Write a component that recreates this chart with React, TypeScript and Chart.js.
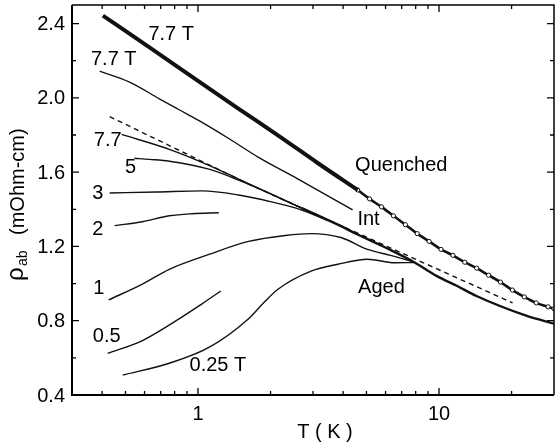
import React, { useEffect, useRef } from "react";
import { Chart, registerables } from "chart.js";
Chart.register(...registerables);

// ---- data (T in K, rho_ab in mOhm-cm) ----
const quenchedT = [0.403, 0.629, 1.0, 1.475, 2.154, 3.147, 4.6];
const quenchedR = [2.443, 2.272, 2.091, 1.941, 1.797, 1.648, 1.504];
const quenchedCircT = [4.6, 5.15, 5.77, 6.47, 7.25, 8.12, 9.1, 10.19, 11.42, 12.79, 14.33, 16.06, 17.99, 20.16, 22.59, 25.31, 28.36, 30];
const quenchedCircR = [1.504, 1.456, 1.413, 1.365, 1.317, 1.269, 1.227, 1.184, 1.152, 1.115, 1.083, 1.045, 1.008, 0.965, 0.928, 0.896, 0.875, 0.864];
const intT = [0.391, 0.52, 0.691, 0.835, 1.01, 1.341, 1.783, 2.603, 4.38];
const intR = [2.144, 2.085, 1.995, 1.936, 1.877, 1.781, 1.68, 1.563, 1.397];
const dashT = [0.43, 1.62, 20.2];
const dashR = [1.899, 1.536, 0.896];
const aged77T = [0.482, 0.76, 1.11, 1.475, 1.96, 2.679, 3.804, 4.6, 6.11, 7.89, 9.81, 11.9, 14.3, 23.0, 30];
const aged77R = [1.803, 1.723, 1.637, 1.563, 1.488, 1.408, 1.317, 1.264, 1.189, 1.115, 1.04, 0.987, 0.933, 0.827, 0.784];
const aged5T = [0.545, 0.629, 0.76, 1.11, 1.475, 1.96, 2.679];
const aged5R = [1.675, 1.669, 1.659, 1.616, 1.557, 1.488, 1.408];
const aged3T = [0.43, 0.672, 1.039, 1.475, 2.016, 2.679, 3.46];
const aged3R = [1.488, 1.493, 1.499, 1.477, 1.44, 1.397, 1.339];
const aged2T = [0.451, 0.588, 0.76, 0.945, 1.22];
const aged2R = [1.312, 1.333, 1.365, 1.376, 1.381];
const aged1T = [0.426, 0.588, 0.76, 1.11, 1.621, 2.302, 2.945, 3.913, 5.054, 6.29, 7.89];
const aged1R = [0.912, 0.997, 1.077, 1.157, 1.227, 1.259, 1.269, 1.248, 1.184, 1.152, 1.115];
const aged05T = [0.422, 0.588, 0.812, 1.039, 1.244];
const aged05R = [0.624, 0.693, 0.8, 0.891, 0.96];
const aged025T = [0.487, 0.76, 1.11, 1.621, 1.869, 2.154, 2.945, 3.804, 5.054, 6.53, 7.89];
const aged025R = [0.507, 0.571, 0.656, 0.811, 0.896, 0.971, 1.067, 1.104, 1.131, 1.112, 1.113];

const yMajor = [0.4, 0.8, 1.2, 1.6, 2.0, 2.4];
const yMinor = [0.6, 1.0, 1.4, 1.8, 2.2];
const xMajor = [1, 10];
const xMinor = [0.4, 0.5, 0.6, 0.7, 0.8, 0.9, 2, 3, 4, 5, 6, 7, 8, 9, 20];

const curveLabels = ["7.7 T", "7.7 T", "7.7", "5", "3", "2", "1", "0.5", "0.25 T", "Quenched", "Int", "Aged"];
const labelT = [0.774, 0.447, 0.422, 0.525, 0.384, 0.384, 0.388, 0.418, 1.209, 6.97, 5.1, 5.77];
const labelR = [2.341, 2.208, 1.771, 1.627, 1.483, 1.291, 0.976, 0.715, 0.56, 1.637, 1.344, 0.981];

const FONT = '"Liberation Sans", Arial, sans-serif';

const pts = (xs: number[], ys: number[]) => xs.map((x, i) => ({ x, y: ys[i] }));

const decor = {
  id: "decor",
  afterDatasetsDraw(chart: any) {
    const { ctx, chartArea: a, scales } = chart;
    const x = scales.x;
    const y = scales.y;
    ctx.save();
    ctx.strokeStyle = "#000";
    ctx.fillStyle = "#000";
    // frame
    ctx.lineWidth = 1.5;
    ctx.beginPath();
    ctx.moveTo(a.left, a.top);
    ctx.lineTo(a.right, a.top);
    ctx.lineTo(a.right, a.bottom);
    ctx.stroke();
    ctx.lineWidth = 2;
    ctx.beginPath();
    ctx.moveTo(a.left, a.top);
    ctx.lineTo(a.left, a.bottom);
    ctx.lineTo(a.right, a.bottom);
    ctx.stroke();
    // ticks
    ctx.lineWidth = 1.3;
    const vtick = (v: number, len: number) => {
      const px = x.getPixelForValue(v);
      ctx.beginPath();
      ctx.moveTo(px, a.bottom);
      ctx.lineTo(px, a.bottom - len);
      ctx.moveTo(px, a.top);
      ctx.lineTo(px, a.top + len);
      ctx.stroke();
    };
    const htick = (v: number, len: number) => {
      const py = y.getPixelForValue(v);
      ctx.beginPath();
      ctx.moveTo(a.left, py);
      ctx.lineTo(a.left + len, py);
      ctx.moveTo(a.right, py);
      ctx.lineTo(a.right - len, py);
      ctx.stroke();
    };
    xMajor.forEach((v) => vtick(v, 7));
    xMinor.forEach((v) => vtick(v, 4));
    yMajor.forEach((v) => htick(v, 7));
    yMinor.forEach((v) => htick(v, 4));
    // tick labels
    ctx.font = "20px " + FONT;
    ctx.textAlign = "right";
    ctx.textBaseline = "middle";
    yMajor.forEach((v) => ctx.fillText(v.toFixed(1), a.left - 7, y.getPixelForValue(v) + 1));
    ctx.textAlign = "center";
    xMajor.forEach((v) => ctx.fillText(String(v), x.getPixelForValue(v), a.bottom + 19));
    // x title
    ctx.fillText("T ( K )", 325, a.bottom + 37);
    // y title
    ctx.save();
    ctx.translate(24, 281);
    ctx.rotate(-Math.PI / 2);
    ctx.textAlign = "left";
    ctx.textBaseline = "alphabetic";
    ctx.font = "24px " + FONT;
    ctx.fillText("ρ", 0, -1);
    ctx.font = "14px " + FONT;
    ctx.fillText("ab", 15, 3);
    ctx.font = "20px " + FONT;
    ctx.fillText("(mOhm-cm)", 46, 0);
    ctx.restore();
    // curve labels
    ctx.font = "20px " + FONT;
    ctx.textAlign = "center";
    ctx.textBaseline = "middle";
    curveLabels.forEach((t, i) => {
      ctx.fillText(t, x.getPixelForValue(labelT[i]), y.getPixelForValue(labelR[i]));
    });
    ctx.restore();
  },
};

export default function App() {
  const ref = useRef<HTMLCanvasElement | null>(null);
  useEffect(() => {
    if (!ref.current) return;
    const thin = (data: any, extra: any = {}) => ({
      data,
      borderColor: "#111",
      borderWidth: 1.4,
      pointRadius: 0,
      cubicInterpolationMode: "monotone",
      fill: false,
      ...extra,
    });
    const chart = new Chart(ref.current, {
      type: "line",
      data: {
        datasets: [
          thin(pts(quenchedT, quenchedR), { borderWidth: 4 }),
          thin(pts(quenchedCircT, quenchedCircR), {
            borderWidth: 2.6,
            pointRadius: 2.1,
            pointBorderWidth: 1,
            pointBackgroundColor: "#fff",
            pointBorderColor: "#111",
          }),
          thin(pts(intT, intR)),
          thin(pts(dashT, dashR), { borderDash: [5, 4], cubicInterpolationMode: "default", tension: 0 }),
          thin(pts(aged77T, aged77R), {
            segment: { borderWidth: (c: any) => (c.p0.parsed.x >= 2.5 ? 2.4 : 1.4) },
          }),
          thin(pts(aged5T, aged5R)),
          thin(pts(aged3T, aged3R)),
          thin(pts(aged2T, aged2R)),
          thin(pts(aged1T, aged1R)),
          thin(pts(aged05T, aged05R)),
          thin(pts(aged025T, aged025R)),
        ] as any,
      },
      options: {
        responsive: false,
        animation: false,
        layout: { padding: { left: 72, top: 3, right: 1, bottom: 50 } },
        plugins: { legend: { display: false }, tooltip: { enabled: false } },
        scales: {
          x: { type: "logarithmic", min: 0.3, max: 30, display: false },
          y: { type: "linear", min: 0.4, max: 2.5, display: false },
        },
      },
      plugins: [decor],
    });
    return () => chart.destroy();
  }, []);
  return (
    <div style={{ position: "fixed", left: 0, top: 0, width: 559, height: 445, background: "#fff" }}>
      <canvas ref={ref} width={559} height={445} />
    </div>
  );
}
